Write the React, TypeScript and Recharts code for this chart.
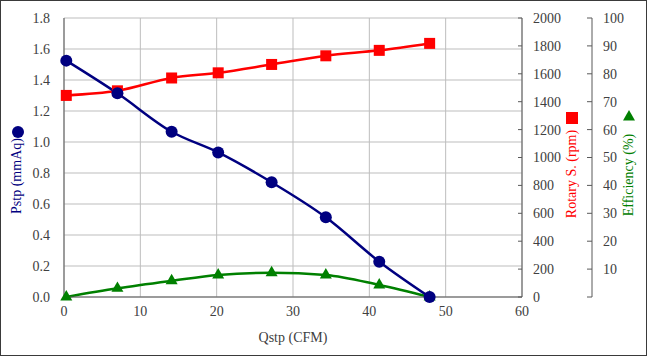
import { LineChart, Line, XAxis, YAxis, CartesianGrid } from 'recharts'

const FONT = '"Liberation Serif", "Times New Roman", serif'
const AXIS = '#595959'
const TEXT = '#404040'
const NAVY = '#000080'
const RED = '#FF0000'
const GREEN = '#008000'

// Qstp (CFM)
const qstp = [0.3, 7.0, 14.1, 20.2, 27.2, 34.3, 41.3, 47.9]
// Pstp (mmAq)
const pstp = [1.525, 1.314, 1.066, 0.933, 0.74, 0.514, 0.228, 0.0]
// Rotary S. (rpm)
const rotary = [1445, 1478, 1570, 1607, 1667, 1729, 1768, 1818]
// Efficiency (%)
const efficiency = [0, 3.1, 5.8, 7.9, 8.7, 7.9, 4.3, 0]

const xTicks = [0, 10, 20, 30, 40, 50, 60]
const pstpTicks = [0, 0.2, 0.4, 0.6, 0.8, 1.0, 1.2, 1.4, 1.6, 1.8]
const rpmTicks = [0, 200, 400, 600, 800, 1000, 1200, 1400, 1600, 1800, 2000]
const effTicks = [0, 10, 20, 30, 40, 50, 60, 70, 80, 90, 100]

const data = qstp.map((q, i) => ({
  q,
  pstp: pstp[i],
  rpm: rotary[i],
  eff: efficiency[i],
}))

const txt = { fontSize: 14, fill: TEXT, style: { fontFamily: FONT } }

const xTick = (props: any) => (
  <text x={props.x} y={props.y} dy="0.75em" textAnchor="middle" {...txt}>
    {props.payload.value}
  </text>
)

const leftTick = (props: any) => (
  <text x={props.x} y={props.y} dy="0.35em" textAnchor="end" {...txt}>
    {props.payload.value.toFixed(1)}
  </text>
)

// right-side tick: short mark pointing into the plot, label to the right
const inTick = (gap: number, len: number, skipZero: boolean) => (props: any) => {
  const { x, y, payload } = props
  const ax = x - gap
  return (
    <g>
      <line x1={ax - len} x2={ax} y1={y} y2={y} stroke={AXIS} strokeWidth={1} />
      {!(skipZero && payload.value === 0) && (
        <text x={x} y={y} dy="0.35em" textAnchor="start" {...txt}>
          {payload.value}
        </text>
      )}
    </g>
  )
}

const Square = ({ cx, cy, fill, size }: any) => (
  <rect x={cx - size / 2} y={cy - size / 2} width={size} height={size} fill={fill} />
)

const Triangle = ({ cx, cy, fill, size }: any) => {
  const h = size * 0.87
  return (
    <polygon
      points={`${cx},${cy - (h * 2) / 3} ${cx - size / 2},${cy + h / 3} ${cx + size / 2},${cy + h / 3}`}
      fill={fill}
    />
  )
}

const sideLabel = (text: string, color: string, dx: number, textY: number, markerY: number, marker: string) =>
  (props: any) => {
    const vb = props.viewBox
    const x = vb.x + dx
    return (
      <g>
        {marker === 'circle' && <circle cx={x + 2} cy={markerY} r={6} fill={color} />}
        {marker === 'square' && <Square cx={x + 1} cy={markerY} size={12} fill={color} />}
        {marker === 'triangle' && <Triangle cx={x + 1} cy={markerY} size={12} fill={color} />}
        <text
          x={x}
          y={textY}
          transform={`rotate(-90 ${x} ${textY})`}
          textAnchor="middle"
          dominantBaseline="central"
          fontSize={14}
          fill={color}
          style={{ fontFamily: FONT }}
        >
          {text}
        </text>
      </g>
    )
  }

export default function App() {
  return (
    <div
      style={{
        position: 'absolute',
        left: 0,
        top: 0,
        width: 647,
        height: 356,
        boxSizing: 'border-box',
        border: '1px solid #3a3a3a',
        background: '#fff',
        fontFamily: FONT,
      }}
    >
      <div style={{ position: 'absolute', left: -1, top: -1 }}>
        <LineChart
          width={647}
          height={356}
          data={data}
          margin={{ top: 18, right: 0, bottom: 29, left: 0 }}
          style={{ fontFamily: FONT }}
        >
          <CartesianGrid yAxisId="left" stroke="#bdbdbd" strokeWidth={1} />
          <XAxis
            dataKey="q"
            type="number"
            domain={[0, 60]}
            ticks={xTicks}
            height={30}
            stroke={AXIS}
            tickLine={false}
            tickSize={0}
            tickMargin={8}
            tick={xTick}
            label={(p: any) => (
              <text
                x={p.viewBox.x + p.viewBox.width / 2}
                y={337}
                textAnchor="middle"
                dominantBaseline="central"
                fontSize={14}
                fill={TEXT}
                style={{ fontFamily: FONT }}
              >
                Qstp (CFM)
              </text>
            )}
          />
          <YAxis
            yAxisId="left"
            width={64}
            domain={[0, 1.8]}
            ticks={pstpTicks}
            stroke={AXIS}
            tickLine={false}
            tickSize={0}
            tickMargin={14}
            tick={leftTick}
            label={sideLabel('Pstp (mmAq)', NAVY, 16, 176, 132, 'circle')}
          />
          <YAxis
            yAxisId="rpm"
            orientation="right"
            width={70}
            domain={[0, 2000]}
            ticks={rpmTicks}
            stroke={AXIS}
            tickLine={false}
            tickSize={0}
            tickMargin={11}
            tick={inTick(11, 4, false)}
            label={sideLabel('Rotary S. (rpm)', RED, 49, 174, 118, 'square')}
          />
          <YAxis
            yAxisId="zeff"
            orientation="right"
            width={55}
            domain={[0, 100]}
            ticks={effTicks}
            stroke={AXIS}
            tickLine={false}
            tickSize={0}
            tickMargin={11}
            tick={inTick(11, 5, true)}
            label={sideLabel('Efficiency (%)', GREEN, 36, 175, 117, 'triangle')}
          />
          <Line
            yAxisId="zeff"
            dataKey="eff"
            type="monotone"
            stroke={GREEN}
            strokeWidth={2.5}
            dot={(p: any) => <Triangle key={p.index} cx={p.cx} cy={p.cy} size={12} fill={GREEN} />}
            isAnimationActive={false}
          />
          <Line
            yAxisId="rpm"
            dataKey="rpm"
            type="monotone"
            stroke={RED}
            strokeWidth={2.5}
            dot={(p: any) => <Square key={p.index} cx={p.cx} cy={p.cy} size={11} fill={RED} />}
            isAnimationActive={false}
          />
          <Line
            yAxisId="left"
            dataKey="pstp"
            type="monotone"
            stroke={NAVY}
            strokeWidth={2.5}
            dot={{ r: 6, fill: NAVY, stroke: 'none' }}
            isAnimationActive={false}
          />
        </LineChart>
      </div>
    </div>
  )
}
